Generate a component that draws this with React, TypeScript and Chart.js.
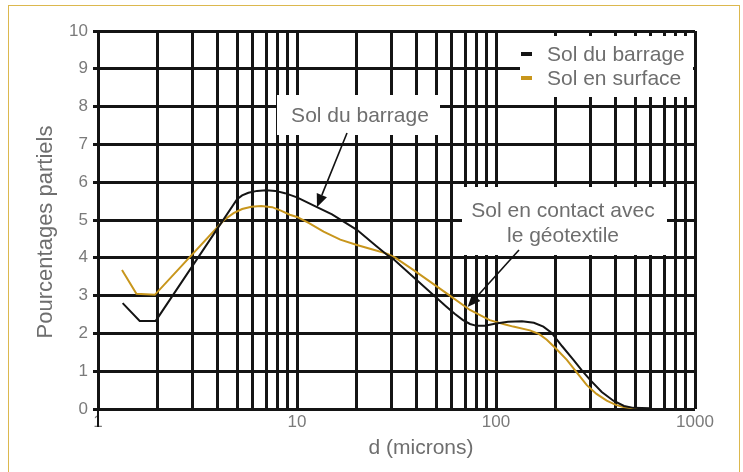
import React, { useEffect, useRef } from 'react';
import { Chart, registerables } from 'chart.js';

Chart.register(...registerables);

// ---- data ----
const seriesNames = ['Sol du barrage', 'Sol en surface'];

const barrageX = [1.33, 1.62, 1.95, 5.0, 5.3, 5.7, 6.3, 7.0, 7.8, 8.7, 10, 12.6, 15, 20, 25, 28.3, 30, 56, 62, 68, 74, 80, 88, 100, 115, 135, 155, 173, 190, 215, 245, 270, 297, 340, 389, 440, 490, 594];
const barrageY = [2.80, 2.33, 2.33, 5.55, 5.65, 5.72, 5.77, 5.79, 5.77, 5.71, 5.60, 5.34, 5.15, 4.74, 4.31, 4.08, 4.00, 2.72, 2.52, 2.36, 2.25, 2.20, 2.20, 2.26, 2.31, 2.32, 2.28, 2.18, 2.02, 1.66, 1.30, 1.02, 0.77, 0.45, 0.22, 0.08, 0.03, 0.02];

const surfaceX = [1.32, 1.56, 1.93, 4.3, 4.8, 5.3, 5.9, 6.6, 7.5, 8.3, 9.2, 10, 11.5, 13.6, 16.5, 20, 24, 28.3, 31, 38.4, 56.5, 74, 93, 110, 122, 148, 165, 180, 200, 227, 255, 286, 320, 360, 400, 437, 527];
const surfaceY = [3.68, 3.05, 3.02, 5.00, 5.18, 5.29, 5.35, 5.37, 5.34, 5.25, 5.14, 5.08, 4.92, 4.69, 4.48, 4.34, 4.22, 4.11, 4.01, 3.68, 3.06, 2.62, 2.35, 2.24, 2.18, 2.08, 1.98, 1.83, 1.60, 1.30, 0.96, 0.63, 0.40, 0.22, 0.11, 0.05, 0.0];

const xTickValues = [1, 2, 3, 4, 5, 6, 7, 8, 9, 10, 20, 30, 40, 50, 60, 70, 80, 90, 100, 200, 300, 400, 500, 600, 700, 800, 900, 1000];
const xLabelValues = [1, 10, 100, 1000];
const yMin = 0;
const yMax = 10;

const xTitle = 'd (microns)';
const yTitle = 'Pourcentages partiels';
const annotation1 = ['Sol du barrage'];
const annotation1Tip = [12.6, 5.34];
const annotation2 = ['Sol en contact avec', 'le géotextile'];
const annotation2Tip = [72, 2.7];

const BLACK = '#141414';
const GOLD = '#c8961c';
const TEXT = '#6e6e6e';
const FONT = '"Liberation Sans", Arial, sans-serif';

function drawArrow(ctx: CanvasRenderingContext2D, x0: number, y0: number, x1: number, y1: number) {
  const ang = Math.atan2(y1 - y0, x1 - x0);
  const len = 13;
  const half = 5.5;
  const bx = x1 - len * Math.cos(ang);
  const by = y1 - len * Math.sin(ang);
  ctx.strokeStyle = '#111';
  ctx.lineWidth = 1.6;
  ctx.beginPath();
  ctx.moveTo(x0, y0);
  ctx.lineTo(bx, by);
  ctx.stroke();
  ctx.fillStyle = '#111';
  ctx.beginPath();
  ctx.moveTo(x1, y1);
  ctx.lineTo(bx + half * Math.sin(ang), by - half * Math.cos(ang));
  ctx.lineTo(bx - half * Math.sin(ang), by + half * Math.cos(ang));
  ctx.closePath();
  ctx.fill();
}

const overlayPlugin = {
  id: 'overlay',
  afterDraw(chart: any) {
    const ctx: CanvasRenderingContext2D = chart.ctx;
    const xs = chart.scales.x;
    const ys = chart.scales.y;
    const area = chart.chartArea;
    ctx.save();

    // y axis extension below zero
    ctx.strokeStyle = BLACK;
    ctx.lineWidth = 2;
    ctx.beginPath();
    ctx.moveTo(area.left, area.bottom);
    ctx.lineTo(area.left, area.bottom + 18);
    ctx.stroke();

    // axis titles
    ctx.fillStyle = TEXT;
    ctx.font = `21px ${FONT}`;
    ctx.textAlign = 'center';
    ctx.textBaseline = 'middle';
    ctx.fillText(xTitle, 421, 448);
    ctx.save();
    ctx.translate(46, 232);
    ctx.rotate(-Math.PI / 2);
    ctx.font = `22px ${FONT}`;
    ctx.fillText(yTitle, 0, 0);
    ctx.restore();

    // legend
    ctx.fillStyle = '#fff';
    ctx.fillRect(520, 36, area.right - 522, 61);
    const colors = [BLACK, GOLD];
    const ly = [54, 78];
    seriesNames.forEach((name, i) => {
      ctx.fillStyle = colors[i];
      ctx.fillRect(521, ly[i] - 2, 11, 4);
      ctx.fillStyle = TEXT;
      ctx.font = `21px ${FONT}`;
      ctx.textAlign = 'left';
      ctx.textBaseline = 'middle';
      ctx.fillText(name, 547, ly[i] + 1);
    });

    // annotation 1
    ctx.fillStyle = '#fff';
    ctx.fillRect(277, 95, 163, 40);
    ctx.fillStyle = TEXT;
    ctx.textAlign = 'center';
    ctx.fillText(annotation1[0], 360, 116);
    drawArrow(ctx, 347, 133, xs.getPixelForValue(annotation1Tip[0]), ys.getPixelForValue(annotation1Tip[1]));

    // annotation 2
    ctx.fillStyle = '#fff';
    ctx.fillRect(462, 187, 205, 68);
    ctx.fillStyle = TEXT;
    ctx.fillText(annotation2[0], 563, 211);
    ctx.fillText(annotation2[1], 563, 236);
    drawArrow(ctx, 519, 250, xs.getPixelForValue(annotation2Tip[0]), ys.getPixelForValue(annotation2Tip[1]));

    ctx.restore();
  },
};

export default function App() {
  const ref = useRef<HTMLCanvasElement | null>(null);

  useEffect(() => {
    if (!ref.current) return;
    const chart = new Chart(ref.current, {
      type: 'line',
      data: {
        datasets: [
          {
            label: seriesNames[0],
            data: barrageX.map((x, i) => ({ x, y: barrageY[i] })),
            borderColor: BLACK,
            borderWidth: 2,
            pointRadius: 0,
            tension: 0,
            fill: false,
          },
          {
            label: seriesNames[1],
            data: surfaceX.map((x, i) => ({ x, y: surfaceY[i] })),
            borderColor: GOLD,
            borderWidth: 2,
            pointRadius: 0,
            tension: 0,
            fill: false,
          },
        ],
      },
      options: {
        responsive: false,
        animation: false,
        layout: { padding: { top: 31, right: 48, left: 0, bottom: 0 } },
        plugins: {
          legend: { display: false },
          tooltip: { enabled: false },
          title: { display: false },
        },
        scales: {
          x: {
            type: 'logarithmic',
            min: 1,
            max: 1000,
            afterBuildTicks: (scale: any) => {
              scale.ticks = xTickValues.map((v) => ({ value: v }));
            },
            afterFit: (scale: any) => {
              scale.height = 63;
            },
            ticks: {
              autoSkip: false,
              maxRotation: 0,
              padding: 3,
              color: '#7a7a7a',
              font: { family: FONT, size: 17 },
              callback: (value: any) => (xLabelValues.includes(Number(value)) ? String(value) : ''),
            },
            grid: { color: BLACK, lineWidth: 3, tickLength: 0, drawTicks: false },
            border: { display: false },
          },
          y: {
            min: yMin,
            max: yMax,
            afterFit: (scale: any) => {
              scale.width = 98;
            },
            ticks: {
              stepSize: 1,
              padding: 5,
              color: '#7a7a7a',
              font: { family: FONT, size: 17 },
            },
            grid: { color: BLACK, lineWidth: 3, tickLength: 5 },
            border: { display: false },
          },
        },
      },
      plugins: [overlayPlugin],
    });
    return () => chart.destroy();
  }, []);

  return (
    <div style={{ position: 'fixed', left: 0, top: 0, width: 743, height: 472, background: '#fff', overflow: 'hidden' }}>
      <div
        style={{
          position: 'absolute',
          left: 8,
          top: 5,
          width: 730,
          height: 480,
          border: '1.5px solid #dcb84e',
        }}
      />
      <canvas ref={ref} width={743} height={472} style={{ position: 'absolute', left: 0, top: 0 }} />
    </div>
  );
}
